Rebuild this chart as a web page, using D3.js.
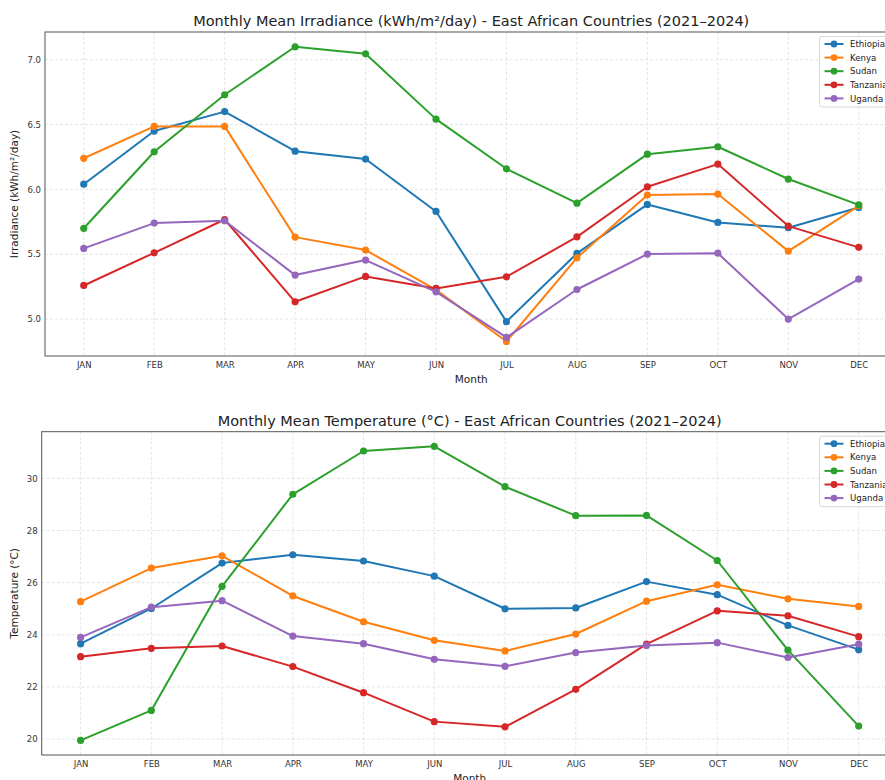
<!DOCTYPE html>
<html>
<head>
<meta charset="utf-8">
<script src="https://cdn.jsdelivr.net/npm/d3@7"></script>
<style>
  html, body { margin: 0; padding: 0; background: #fff; overflow: hidden; }
  svg { display: block; font-family: "DejaVu Sans", sans-serif; }
</style>
</head>
<body>
<svg id="chart" width="885" height="780"></svg>
<script>
// Month labels shared by both panels
const months = ["JAN","FEB","MAR","APR","MAY","JUN","JUL","AUG","SEP","OCT","NOV","DEC"];
const countries = ["Ethiopia","Kenya","Sudan","Tanzania","Uganda"];
const colors = ["#1f77b4","#ff7f0e","#2ca02c","#d62728","#9467bd"];

// Monthly mean irradiance (kWh/m²/day)
const irrEthiopia = [6.04, 6.45, 6.60, 6.295, 6.234, 5.83, 4.98, 5.506, 5.884, 5.745, 5.704, 5.86];
const irrKenya    = [6.24, 6.486, 6.486, 5.632, 5.532, 5.225, 4.827, 5.472, 5.956, 5.964, 5.524, 5.873];
const irrSudan    = [5.70, 6.29, 6.73, 7.10, 7.046, 6.542, 6.159, 5.894, 6.272, 6.329, 6.08, 5.881];
const irrTanzania = [5.259, 5.511, 5.768, 5.133, 5.329, 5.236, 5.326, 5.634, 6.02, 6.195, 5.717, 5.553];
const irrUganda   = [5.545, 5.74, 5.758, 5.339, 5.455, 5.21, 4.858, 5.228, 5.501, 5.508, 5.0, 5.308];
const irrTicks = [5.0, 5.5, 6.0, 6.5, 7.0];

// Monthly mean temperature (°C)
const tmpEthiopia = [23.66, 25.01, 26.75, 27.07, 26.83, 26.25, 25.0, 25.03, 26.04, 25.54, 24.36, 23.43];
const tmpKenya    = [25.27, 26.56, 27.03, 25.49, 24.50, 23.79, 23.38, 24.03, 25.29, 25.92, 25.38, 25.09];
const tmpSudan    = [19.95, 21.10, 25.86, 29.39, 31.05, 31.23, 29.68, 28.57, 28.58, 26.85, 23.41, 20.50];
const tmpTanzania = [23.16, 23.48, 23.57, 22.78, 21.78, 20.67, 20.47, 21.91, 23.64, 24.92, 24.73, 23.93];
const tmpUganda   = [23.90, 25.06, 25.31, 23.95, 23.66, 23.06, 22.79, 23.32, 23.59, 23.70, 23.13, 23.64];
const tmpTicks = [20, 22, 24, 26, 28, 30];

const svg = d3.select("#chart");

function panel(cfg) {
  const { left, right, top, bottom, yDomain, series, ticks, tickFmt, title, ylabel } = cfg;
  const g = svg.append("g");
  const x = d3.scalePoint().domain(months).range([left, right]).padding(0.55);
  const y = d3.scaleLinear().domain(yDomain).range([bottom, top]);

  // dashed grid
  g.append("g").selectAll("line").data(months).join("line")
    .attr("x1", d => x(d)).attr("x2", d => x(d))
    .attr("y1", top).attr("y2", bottom)
    .attr("stroke", "#dedede").attr("stroke-width", 0.8).attr("stroke-dasharray", "3,2");
  g.append("g").selectAll("line").data(ticks).join("line")
    .attr("x1", left).attr("x2", right)
    .attr("y1", d => y(d)).attr("y2", d => y(d))
    .attr("stroke", "#dedede").attr("stroke-width", 0.8).attr("stroke-dasharray", "3,2");

  // axes (labels only, no tick marks)
  const xAxis = g.append("g").attr("transform", `translate(0,${bottom})`)
    .call(d3.axisBottom(x).tickSize(0).tickPadding(6));
  const yAxis = g.append("g").attr("transform", `translate(${left},0)`)
    .call(d3.axisLeft(y).tickValues(ticks).tickFormat(tickFmt).tickSize(0).tickPadding(4));
  [xAxis, yAxis].forEach(a => {
    a.select(".domain").remove();
    a.selectAll(".tick line").remove();
    a.selectAll(".tick text").attr("fill", "#333").attr("font-size", "8.5px")
      .attr("font-family", "DejaVu Sans, sans-serif");
  });

  // frame
  g.append("rect").attr("x", left).attr("y", top)
    .attr("width", right - left).attr("height", bottom - top)
    .attr("fill", "none").attr("stroke", "#555").attr("stroke-width", 1);

  // lines + markers
  const line = d3.line().x((d, i) => x(months[i])).y(d => y(d));
  series.forEach((vals, k) => {
    g.append("path").datum(vals).attr("d", line)
      .attr("fill", "none").attr("stroke", colors[k]).attr("stroke-width", 2)
      .attr("stroke-linejoin", "round");
    g.append("g").selectAll("circle").data(vals).join("circle")
      .attr("cx", (d, i) => x(months[i])).attr("cy", d => y(d)).attr("r", 3.6)
      .attr("fill", colors[k]);
  });

  // titles and labels
  g.append("text").attr("x", (left + right) / 2).attr("y", top - 6)
    .attr("text-anchor", "middle").attr("font-size", "14.5px").attr("fill", "#222").text(title);
  g.append("text").attr("x", (left + right) / 2).attr("y", bottom + 27)
    .attr("text-anchor", "middle").attr("font-size", "10.5px").attr("fill", "#222").text("Month");
  g.append("text").attr("transform", `translate(18,${(top + bottom) / 2}) rotate(-90)`)
    .attr("text-anchor", "middle").attr("font-size", "10.5px").attr("fill", "#222").text(ylabel);

  // legend
  const lx = 819.5, ly = top + 4.5, rowH = 13.6;
  const leg = g.append("g");
  leg.append("rect").attr("x", lx).attr("y", ly).attr("width", 90).attr("height", 70.5)
    .attr("rx", 2.5).attr("fill", "#fff").attr("fill-opacity", 0.85)
    .attr("stroke", "#ccc").attr("stroke-width", 0.8);
  countries.forEach((c, k) => {
    const cy = ly + 7.5 + k * rowH;
    leg.append("line").attr("x1", lx + 5).attr("x2", lx + 24).attr("y1", cy).attr("y2", cy)
      .attr("stroke", colors[k]).attr("stroke-width", 2);
    leg.append("circle").attr("cx", lx + 14.5).attr("cy", cy).attr("r", 3.4).attr("fill", colors[k]);
    leg.append("text").attr("x", lx + 30.5).attr("y", cy + 3.1)
      .attr("font-size", "8.6px").attr("fill", "#222").text(c);
  });
}

panel({
  left: 45, right: 897.5, top: 32, bottom: 356,
  yDomain: [4.715, 7.214],
  series: [irrEthiopia, irrKenya, irrSudan, irrTanzania, irrUganda],
  ticks: irrTicks, tickFmt: d3.format(".1f"),
  title: "Monthly Mean Irradiance (kWh/m²/day) - East African Countries (2021–2024)",
  ylabel: "Irradiance (kWh/m²/day)"
});

panel({
  left: 41.7, right: 897.6, top: 431.7, bottom: 755,
  yDomain: [19.39, 31.79],
  series: [tmpEthiopia, tmpKenya, tmpSudan, tmpTanzania, tmpUganda],
  ticks: tmpTicks, tickFmt: d3.format("d"),
  title: "Monthly Mean Temperature (°C) - East African Countries (2021–2024)",
  ylabel: "Temperature (°C)"
});
</script>
</body>
</html>
